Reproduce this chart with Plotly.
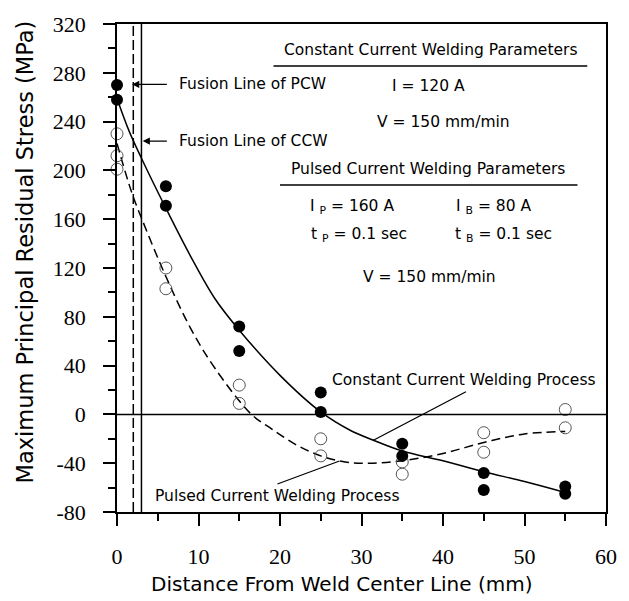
import plotly.graph_objects as go

# ---- data ----
ccw_x = [0, 0, 6, 6, 15, 15, 25, 25, 35, 35, 45, 45, 55, 55]
ccw_y = [270, 258, 187, 171, 72, 52, 18, 2, -24, -34, -48, -62, -59, -65]

pcw_x = [0, 0, 0, 6, 6, 15, 15, 25, 25, 35, 35, 45, 45, 55, 55]
pcw_y = [230, 212, 201, 120, 103, 24, 9, -20, -34, -39, -49, -15, -31, 4, -11]

ccw_fit_x = [0, 1.5, 3, 6, 9, 12, 15, 20, 25, 28.6, 31.4, 35, 40, 45, 50, 55]
ccw_fit_y = [259, 232, 210, 169, 130, 95, 69, 32, 2, -13, -21, -30, -38, -47, -55, -64]

pcw_fit_x = [0, 1.8, 3, 6, 9, 12, 16.5, 19, 22, 25, 28, 31, 35, 40, 45, 50, 55]
pcw_fit_y = [222, 182, 161, 113, 71, 38, 0, -12, -25, -34, -39, -40, -38, -32, -23, -16, -14]

fusion_pcw_x = 2
fusion_ccw_x = 3

x_ticks = [0, 10, 20, 30, 40, 50, 60]
y_ticks = [-80, -40, 0, 40, 80, 120, 160, 200, 240, 280, 320]

TXT = dict(family="DejaVu Sans", size=15.5, color="black")

fig = go.Figure()

fig.add_trace(go.Scatter(x=ccw_fit_x, y=ccw_fit_y, mode="lines", line_shape="spline",
                         line=dict(color="black", width=1.5), hoverinfo="skip"))
fig.add_trace(go.Scatter(x=pcw_fit_x, y=pcw_fit_y, mode="lines", line_shape="spline",
                         line=dict(color="black", width=1.5, dash="9px,5px"), hoverinfo="skip"))
fig.add_trace(go.Scatter(x=pcw_x, y=pcw_y, mode="markers", cliponaxis=False,
                         marker=dict(symbol="circle-open", size=12, color="#555555",
                                     line=dict(width=1, color="#555555"))))
fig.add_trace(go.Scatter(x=ccw_x, y=ccw_y, mode="markers", cliponaxis=False,
                         marker=dict(symbol="circle", size=12, color="black")))

shapes = []
shapes.append(dict(type="line", xref="x", yref="y", x0=fusion_pcw_x, x1=fusion_pcw_x, y0=-80, y1=320,
                   line=dict(color="black", width=1.5, dash="10px,4px")))
shapes.append(dict(type="line", xref="x", yref="y", x0=fusion_ccw_x, x1=fusion_ccw_x, y0=-80, y1=320,
                   line=dict(color="black", width=1.5)))
shapes.append(dict(type="line", xref="x", yref="y", x0=0, x1=60, y0=0, y1=0,
                   line=dict(color="black", width=1.5)))
# underlines under parameter headings
shapes.append(dict(type="line", xref="x", yref="y", x0=19.2, x1=57.7, y0=285.5, y1=285.5,
                   line=dict(color="black", width=1.5)))
shapes.append(dict(type="line", xref="x", yref="y", x0=20, x1=56.5, y0=188, y1=188,
                   line=dict(color="black", width=1.5)))

ann = []
def text(x, y, s, xanchor="center"):
    ann.append(dict(x=x, y=y, xref="x", yref="y", text=s, showarrow=False,
                    font=TXT, xanchor=xanchor, yanchor="middle"))

text(38.5, 299, "Constant Current Welding Parameters")
text(38.2, 269, "I = 120 A")
text(40, 240, "V = 150 mm/min")
text(38.2, 201, "Pulsed Current Welding Parameters")
text(28.8, 170, "I <sub>P</sub> = 160 A")
text(46.2, 170, "I <sub>B</sub> = 80 A")
text(29.7, 147, "t <sub>P</sub> = 0.1 sec")
text(47.4, 147, "t <sub>B</sub> = 0.1 sec")
text(38.4, 113, "V = 150 mm/min")
text(7.3, 270.5, "Fusion Line of PCW", xanchor="left")
text(7.3, 224, "Fusion Line of CCW", xanchor="left")
text(42.6, 28.4, "Constant Current Welding Process")
text(19.7, -67, "Pulsed Current Welding Process")

# axis titles
ann.append(dict(x=0.461, y=-0.147, xref="paper", yref="paper", showarrow=False,
                text="Distance From Weld Center Line (mm)", xanchor="center", yanchor="middle",
                font=dict(family="DejaVu Sans", size=20, color="black")))
ann.append(dict(x=-0.188, y=0.532, xref="paper", yref="paper", showarrow=False, textangle=-90,
                text="Maximum Principal Residual Stress (MPa)", xanchor="center", yanchor="middle",
                font=dict(family="DejaVu Sans", size=22.5, color="black")))

# fusion arrows
ann.append(dict(x=1.85, y=270.5, ax=6.3, ay=270.5, xref="x", yref="y", axref="x", ayref="y",
                text="", showarrow=True, arrowhead=2, arrowsize=1.2, arrowwidth=1.2, arrowcolor="black"))
ann.append(dict(x=3.15, y=224, ax=6.3, ay=224, xref="x", yref="y", axref="x", ayref="y",
                text="", showarrow=True, arrowhead=2, arrowsize=1.2, arrowwidth=1.2, arrowcolor="black"))
# process pointer lines (no head)
ann.append(dict(x=31.4, y=-21.4, ax=43.0, ay=19.2, xref="x", yref="y", axref="x", ayref="y",
                text="", showarrow=True, arrowhead=0, arrowwidth=1.3, arrowcolor="black"))
ann.append(dict(x=27.3, y=-38.2, ax=19.5, ay=-57.5, xref="x", yref="y", axref="x", ayref="y",
                text="", showarrow=True, arrowhead=0, arrowwidth=1.3, arrowcolor="black"))

fig.update_layout(
    width=629, height=601,
    margin=dict(l=117, r=22, t=21, b=89),
    plot_bgcolor="white", paper_bgcolor="white",
    showlegend=False,
    shapes=shapes, annotations=ann,
)
fig.update_xaxes(range=[0, 60], tickvals=x_ticks, ticktext=[str(v) for v in x_ticks],
                 showgrid=False, zeroline=False,
                 showline=True, linecolor="black", linewidth=1.5, mirror=True,
                 ticks="outside", ticklen=12, tickwidth=1.5, tickcolor="black",
                 minor=dict(dtick=5, tick0=0, ticks="outside", ticklen=7, tickwidth=1.5, tickcolor="black"),
                 tickfont=dict(family="Liberation Serif", size=22, color="black"),
                 ticklabelstandoff=12)
fig.update_yaxes(range=[-80, 320], tickvals=y_ticks, ticktext=[str(v) for v in y_ticks],
                 showgrid=False, zeroline=False,
                 showline=True, linecolor="black", linewidth=1.5, mirror=True,
                 ticks="outside", ticklen=12, tickwidth=1.5, tickcolor="black",
                 minor=dict(dtick=20, tick0=0, ticks="outside", ticklen=7, tickwidth=1.5, tickcolor="black"),
                 tickfont=dict(family="Liberation Serif", size=22, color="black"),
                 ticklabelstandoff=13)

fig.write_html("out.html")
